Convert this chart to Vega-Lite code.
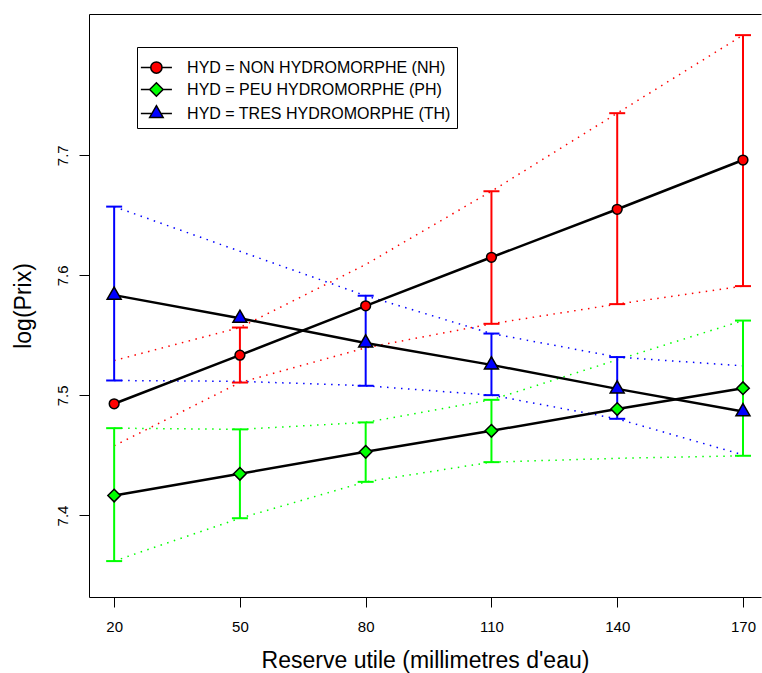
{
  "$schema": "https://vega.github.io/schema/vega-lite/v6.json",
  "width": 672,
  "height": 583,
  "autosize": {"type": "none"},
  "padding": {"left": 89, "top": 14, "right": 1, "bottom": 76},
  "background": "white",
  "config": {
    "view": {"stroke": null},
    "font": "Liberation Sans",
    "axis": {
      "domainColor": "black", "tickColor": "black", "labelColor": "black", "titleColor": "black",
      "labelFontSize": 15, "titleFontSize": 23, "titleFontWeight": "normal",
      "tickSize": 10, "grid": false, "labelFont": "Liberation Sans", "titleFont": "Liberation Sans"
    }
  },
  "datasets": {
    "pts": [
      {"HYD": "HYD = NON HYDROMORPHE (NH)", "RU": 20, "fit": 7.493, "lo": 7.458, "hi": 7.529, "bar": false},
      {"HYD": "HYD = NON HYDROMORPHE (NH)", "RU": 50, "fit": 7.5335, "lo": 7.5107, "hi": 7.5565, "bar": true},
      {"HYD": "HYD = NON HYDROMORPHE (NH)", "RU": 80, "fit": 7.5746, "lo": 7.5396, "hi": 7.609, "bar": false},
      {"HYD": "HYD = NON HYDROMORPHE (NH)", "RU": 110, "fit": 7.615, "lo": 7.5596, "hi": 7.67, "bar": true},
      {"HYD": "HYD = NON HYDROMORPHE (NH)", "RU": 140, "fit": 7.655, "lo": 7.576, "hi": 7.735, "bar": true},
      {"HYD": "HYD = NON HYDROMORPHE (NH)", "RU": 170, "fit": 7.696, "lo": 7.591, "hi": 7.8, "bar": true},
      {"HYD": "HYD = PEU HYDROMORPHE (PH)", "RU": 20, "fit": 7.4166, "lo": 7.362, "hi": 7.4727, "bar": true},
      {"HYD": "HYD = PEU HYDROMORPHE (PH)", "RU": 50, "fit": 7.4347, "lo": 7.3977, "hi": 7.4717, "bar": true},
      {"HYD": "HYD = PEU HYDROMORPHE (PH)", "RU": 80, "fit": 7.453, "lo": 7.428, "hi": 7.4775, "bar": true},
      {"HYD": "HYD = PEU HYDROMORPHE (PH)", "RU": 110, "fit": 7.4705, "lo": 7.4444, "hi": 7.4963, "bar": true},
      {"HYD": "HYD = PEU HYDROMORPHE (PH)", "RU": 140, "fit": 7.4886, "lo": 7.4476, "hi": 7.5296, "bar": false},
      {"HYD": "HYD = PEU HYDROMORPHE (PH)", "RU": 170, "fit": 7.506, "lo": 7.4497, "hi": 7.5623, "bar": true},
      {"HYD": "HYD = TRES HYDROMORPHE (TH)", "RU": 20, "fit": 7.5835, "lo": 7.5124, "hi": 7.6572, "bar": true},
      {"HYD": "HYD = TRES HYDROMORPHE (TH)", "RU": 50, "fit": 7.5642, "lo": 7.5117, "hi": 7.62, "bar": false},
      {"HYD": "HYD = TRES HYDROMORPHE (TH)", "RU": 80, "fit": 7.5437, "lo": 7.508, "hi": 7.583, "bar": true},
      {"HYD": "HYD = TRES HYDROMORPHE (TH)", "RU": 110, "fit": 7.5254, "lo": 7.5002, "hi": 7.5515, "bar": true},
      {"HYD": "HYD = TRES HYDROMORPHE (TH)", "RU": 140, "fit": 7.5054, "lo": 7.4805, "hi": 7.5319, "bar": true},
      {"HYD": "HYD = TRES HYDROMORPHE (TH)", "RU": 170, "fit": 7.4865, "lo": 7.4505, "hi": 7.5246, "bar": false}
    ]
  },
  "data": {"name": "pts"},
  "encoding": {
    "x": {"field": "RU", "type": "quantitative", "scale": {"domain": [14, 174.3], "nice": false, "zero": false}, "axis": null}
  },
  "layer": [
    {
      "mark": {"type": "line", "strokeDash": [1.5, 5.5], "strokeWidth": 1.5},
      "encoding": {
        "x": {"field": "RU", "type": "quantitative", "scale": {"domain": [14, 174.3], "nice": false, "zero": false},
              "title": "Reserve utile (millimetres d'eau)",
              "axis": {"orient": "bottom", "values": [20, 50, 80, 110, 140, 170], "labelFontSize": 15, "labelPadding": 12, "titlePadding": 15, "labelFlush": false, "labelOverlap": false}},
        "y": {"field": "hi", "type": "quantitative", "title": "log(Prix)",
              "scale": {"domain": [7.3321, 7.8176], "nice": false, "zero": false},
              "axis": {"orient": "left", "values": [7.4, 7.5, 7.6, 7.7], "format": ".1f", "labelFontSize": 15, "labelAngle": 270, "labelAlign": "center", "labelBaseline": "bottom", "labelPadding": 9, "titlePadding": 20, "labelFlush": false, "labelOverlap": false}},
        "color": {"field": "HYD", "type": "nominal", "scale": {"range": ["#FF0000", "#00FF00", "#0000FF"]}, "legend": null}
      }
    },
    {
      "mark": {"type": "line", "strokeDash": [1.5, 5.5], "strokeWidth": 1.5},
      "encoding": {
        "y": {"field": "lo", "type": "quantitative", "title": "log(Prix)"},
        "color": {"field": "HYD", "type": "nominal", "legend": null}
      }
    },
    {
      "transform": [{"filter": "datum.bar"}],
      "mark": {"type": "rule", "strokeWidth": 2},
      "encoding": {
        "y": {"field": "lo", "type": "quantitative", "title": "log(Prix)"},
        "y2": {"field": "hi"},
        "color": {"field": "HYD", "type": "nominal", "legend": null}
      }
    },
    {
      "transform": [{"filter": "datum.bar"}],
      "mark": {"type": "tick", "orient": "horizontal", "size": 16, "thickness": 2, "opacity": 1},
      "encoding": {
        "y": {"field": "lo", "type": "quantitative", "title": "log(Prix)"},
        "color": {"field": "HYD", "type": "nominal", "legend": null}
      }
    },
    {
      "transform": [{"filter": "datum.bar"}],
      "mark": {"type": "tick", "orient": "horizontal", "size": 16, "thickness": 2, "opacity": 1},
      "encoding": {
        "y": {"field": "hi", "type": "quantitative", "title": "log(Prix)"},
        "color": {"field": "HYD", "type": "nominal", "legend": null}
      }
    },
    {
      "mark": {"type": "line", "color": "black", "strokeWidth": 2.5},
      "encoding": {
        "y": {"field": "fit", "type": "quantitative", "title": "log(Prix)"},
        "detail": {"field": "HYD", "type": "nominal"}
      }
    },
    {
      "transform": [{"filter": "datum.HYD == 'HYD = NON HYDROMORPHE (NH)'"}],
      "mark": {"type": "point", "filled": true, "shape": "circle", "size": 95, "fill": "#FF0000", "stroke": "black", "strokeWidth": 1.5, "opacity": 1},
      "encoding": {"y": {"field": "fit", "type": "quantitative", "title": "log(Prix)"}}
    },
    {
      "transform": [{"filter": "datum.HYD == 'HYD = PEU HYDROMORPHE (PH)'"}],
      "mark": {"type": "point", "filled": true, "shape": "diamond", "size": 159, "fill": "#00FF00", "stroke": "black", "strokeWidth": 1.5, "opacity": 1},
      "encoding": {"y": {"field": "fit", "type": "quantitative", "title": "log(Prix)"}}
    },
    {
      "transform": [{"filter": "datum.HYD == 'HYD = TRES HYDROMORPHE (TH)'"}],
      "mark": {"type": "point", "filled": true, "shape": "M0,-1.155L1,0.577L-1,0.577Z", "size": 196, "fill": "#0000FF", "stroke": "black", "strokeWidth": 1.5, "opacity": 1},
      "encoding": {"y": {"field": "fit", "type": "quantitative", "title": "log(Prix)"}}
    },
    {
      "mark": {"type": "point", "filled": true, "opacity": 0, "stroke": "black", "strokeWidth": 1.5, "size": 225},
      "encoding": {
        "x": {"field": "RU", "type": "quantitative", "scale": {"domain": [14, 174.3], "nice": false, "zero": false},
              "axis": {"orient": "top", "labels": false, "ticks": false, "title": null, "domain": true}},
        "y": {"field": "fit", "type": "quantitative", "title": "log(Prix)"},
        "shape": {"field": "HYD", "type": "nominal", "scale": {"range": [
          "M-2.07,0H-0.75M0.75,0H2.07M-0.75,0A0.75,0.75,0,1,1,0.75,0A0.75,0.75,0,1,1,-0.75,0Z",
          "M-2.07,0H-0.9M0.9,0H2.07M-0.9,0L0,-0.9L0.9,0L0,0.9Z",
          "M-2.07,0H-0.6M0.6,0H2.07M0,-1.04L0.9,0.52L-0.9,0.52Z"
        ]},
          "legend": {"orient": "none", "legendX": 48, "legendY": 33, "title": " ", "titleFontSize": 6, "titlePadding": 0, "padding": 6,
                     "fillColor": "white", "strokeColor": "black", "symbolSize": 225, "symbolOpacity": 1,
                     "symbolOffset": 4.9, "labelOffset": 22.2, "labelFontSize": 16, "labelFont": "Liberation Sans",
                     "labelColor": "black", "rowPadding": 2, "labelLimit": 400, "cornerRadius": 0,
                     "encode": {"symbols": {"stroke": {"value": "black"}, "strokeWidth": {"value": 1.5}, "fillOpacity": {"value": 1}}}}},
        "fill": {"field": "HYD", "type": "nominal", "scale": {"range": ["#FF0000", "#00FF00", "#0000FF"]},
          "legend": {"orient": "none", "legendX": 48, "legendY": 33, "title": " ", "titleFontSize": 6, "titlePadding": 0, "padding": 6,
                     "fillColor": "white", "strokeColor": "black", "symbolSize": 225, "symbolOpacity": 1,
                     "symbolOffset": 4.9, "labelOffset": 22.2, "labelFontSize": 16, "labelFont": "Liberation Sans",
                     "labelColor": "black", "rowPadding": 2, "labelLimit": 400, "cornerRadius": 0,
                     "encode": {"symbols": {"stroke": {"value": "black"}, "strokeWidth": {"value": 1.5}, "fillOpacity": {"value": 1}}}}}
      }
    }
  ],
  "resolve": {"axis": {"x": "independent"}}
}
